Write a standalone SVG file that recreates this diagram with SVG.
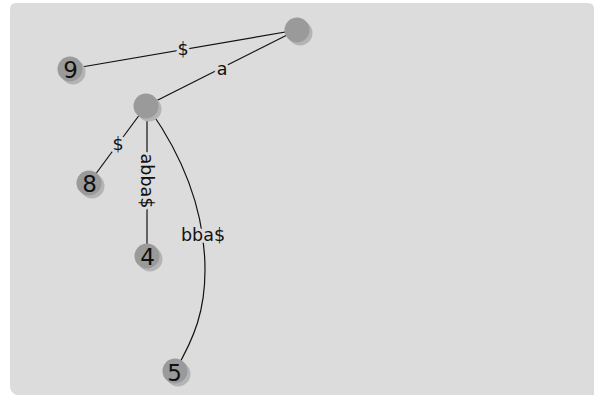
<svg xmlns="http://www.w3.org/2000/svg" width="594" height="395" viewBox="0 0 594 395">
<style>
.node circle.sh{fill:#b4b4b4}
.node circle.fg{fill:#9a9a9a}
.node text{font-family:"DejaVu Sans",sans-serif;font-size:23px;fill:#111;text-anchor:middle}
#edges path,#edges line{stroke:#111;stroke-width:1.2;fill:none}
.lbl{font-family:"DejaVu Sans",sans-serif;font-size:17.5px;fill:#111;text-anchor:middle;stroke:#dcdcdc;stroke-width:6;paint-order:stroke;stroke-linejoin:round}
</style>
<rect width="594" height="395" fill="#fff"/>
<path d="M16,3 H588 Q594,3 594,9 V395 H16 Q10,392 10,386 V9 Q10,3 16,3 Z" fill="#dcdcdc"/>
<g id="edges">
<line x1="297" y1="30" x2="70" y2="69"/>
<line x1="297" y1="30" x2="146" y2="106"/>
<line x1="146" y1="106" x2="89" y2="183"/>
<line x1="147" y1="106" x2="147" y2="256"/>
<path d="M150,110 C185,160 205,215 205,270 C205,310 195,337 175,371"/>
<text class="lbl" x="183" y="55">$</text>
<text class="lbl" x="222" y="75">a</text>
<text class="lbl" x="118" y="150">$</text>
<text class="lbl" x="203" y="241">bba$</text>
<text class="lbl" transform="translate(140.5,181) rotate(90)" x="0" y="0">abba$</text>
</g>
<g id="root" class="node"><circle class="sh" cx="300" cy="33" r="12.5"/><circle class="fg" cx="297" cy="30" r="12.5"/></g>
<g id="n_a" class="node"><circle class="sh" cx="149" cy="109" r="12.5"/><circle class="fg" cx="146" cy="106" r="12.5"/></g>
<g id="n9" class="node"><circle class="sh" cx="73" cy="72" r="12.5"/><circle class="fg" cx="70" cy="69" r="12.5"/><text x="70.5" y="78">9</text></g>
<g id="n8" class="node"><circle class="sh" cx="92" cy="186" r="12.5"/><circle class="fg" cx="89" cy="183" r="12.5"/><text x="89.5" y="192">8</text></g>
<g id="n4" class="node"><circle class="sh" cx="150" cy="259" r="12.5"/><circle class="fg" cx="147" cy="256" r="12.5"/><text x="147.5" y="265">4</text></g>
<g id="n5" class="node"><circle class="sh" cx="178" cy="374" r="12.5"/><circle class="fg" cx="175" cy="371" r="12.5"/><text x="174.5" y="381">5</text></g>
</svg>
